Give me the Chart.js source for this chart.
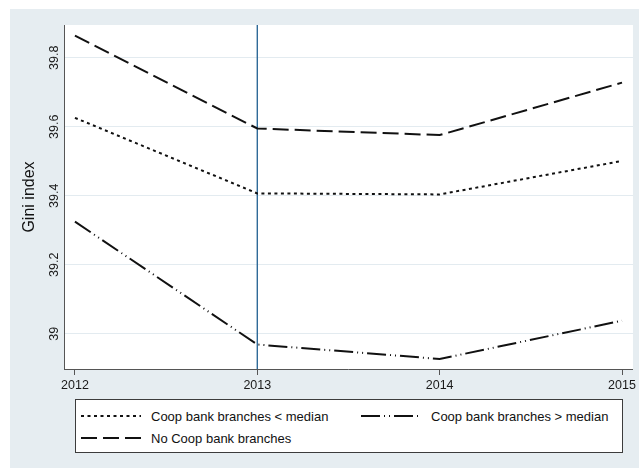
<!DOCTYPE html>
<html>
<head>
<meta charset="utf-8">
<script src="https://cdn.jsdelivr.net/npm/chart.js@4.4.1/dist/chart.umd.min.js"></script>
<style>
  html, body { margin: 0; padding: 0; background: #ffffff; }
  #wrap { position: relative; width: 639px; height: 468px; overflow: hidden; }
  #bg { position: absolute; left: 10px; top: 9px; right: 0; bottom: 0; background: #e6edf1; }
  #c { position: absolute; left: 0; top: 0; }
  #legend {
    position: absolute; background: #ffffff; border: 1px solid #3c3c3c; box-sizing: border-box;
    font-family: "Liberation Sans", Arial, Helvetica, sans-serif; font-size: 13px; color: #111;
  }
  .item { position: absolute; height: 16px; display: flex; align-items: center; white-space: nowrap; }
  .item svg { margin-right: 10px; flex: none; }
</style>
</head>
<body>
<div id="wrap">
  <div id="bg"></div>
  <canvas id="c" width="639" height="468"></canvas>
  <div id="legend"></div>
</div>
<script>
// Survey years and Gini index by group
const years = [2012, 2013, 2014, 2015];
const belowMedian = [39.626, 39.407, 39.404, 39.501];
const aboveMedian = [39.325, 38.969, 38.927, 39.038];
const noCoop = [39.864, 39.595, 39.576, 39.728];
const yTicks = [39, 39.2, 39.4, 39.6, 39.8];
const seriesNames = ['Coop bank branches < median', 'Coop bank branches > median', 'No Coop bank branches'];
const referenceYear = 2013;

// axis extents
const yMin = 38.898, yMax = 39.895;
const xMin = 2011.94, xMax = 2015.06;

// line styles
const DASH_BELOW = [3, 3.5];
const DASH_ABOVE = [19, 4, 1, 4, 1, 4];
const DASH_NONE = [16, 6];
const FONT = '"Liberation Sans", Arial, Helvetica, sans-serif';

const toPoints = vals => years.map((yr, i) => ({ x: yr, y: vals[i] }));

const plotBackground = {
  id: 'plotBackground',
  beforeDraw(chart) {
    const { ctx, chartArea: a } = chart;
    ctx.save();
    ctx.fillStyle = '#ffffff';
    ctx.fillRect(a.left, a.top, a.right - a.left, a.bottom - a.top);
    ctx.restore();
  }
};

const lineDefaults = { borderColor: '#111111', borderWidth: 2, pointRadius: 0, fill: false, tension: 0, borderCapStyle: 'butt' };

const chart = new Chart(document.getElementById('c'), {
  type: 'line',
  data: {
    datasets: [
      { ...lineDefaults, label: seriesNames[0], data: toPoints(belowMedian), borderDash: DASH_BELOW },
      { ...lineDefaults, label: seriesNames[1], data: toPoints(aboveMedian), borderDash: DASH_ABOVE },
      { ...lineDefaults, label: seriesNames[2], data: toPoints(noCoop), borderDash: DASH_NONE },
      { label: 'ref', data: [{ x: referenceYear, y: yMin }, { x: referenceYear, y: yMax }],
        borderColor: '#2f6a98', borderWidth: 1.4, pointRadius: 0, fill: false }
    ]
  },
  options: {
    responsive: false,
    devicePixelRatio: 1,
    animation: false,
    events: [],
    layout: { padding: { left: 0, top: 25, right: 4, bottom: 69 } },
    plugins: { legend: { display: false }, tooltip: { enabled: false } },
    scales: {
      x: {
        type: 'linear', min: xMin, max: xMax,
        afterBuildTicks: s => { s.ticks = years.map(v => ({ value: v })); },
        afterFit: s => { s.height = 30; },
        ticks: { callback: v => String(v), autoSkip: false, maxRotation: 0, padding: 3,
                 color: '#1a1a1a', font: { family: FONT, size: 12.5 } },
        grid: { drawOnChartArea: false, drawTicks: true, tickLength: 6, color: '#555555', lineWidth: 1 },
        border: { display: true, color: '#555555', width: 1 }
      },
      y: {
        type: 'linear', min: yMin, max: yMax,
        afterBuildTicks: s => { s.ticks = yTicks.map(v => ({ value: v })); },
        afterFit: s => { s.width = 64; },
        ticks: { callback: v => String(v), autoSkip: false, minRotation: 90, maxRotation: 90,
                 crossAlign: 'center', padding: -3, color: '#1a1a1a', font: { family: FONT, size: 12.5 } },
        grid: { drawTicks: false, color: '#e3ebf0', lineWidth: 1 },
        border: { display: true, color: '#555555', width: 1 },
        title: { display: true, text: 'Gini index', color: '#111111',
                 font: { family: FONT, size: 16 }, padding: { top: 20, bottom: 0 } }
      }
    }
  },
  plugins: [plotBackground]
});

// legend box spanning the first to last year on the x axis
(function buildLegend() {
  const xs = chart.scales.x;
  const box = document.getElementById('legend');
  const left = Math.round(xs.getPixelForValue(years[0]));
  const right = Math.round(xs.getPixelForValue(years[years.length - 1])) + 1;
  box.style.left = left + 'px';
  box.style.top = Math.round(xs.bottom) + 'px';
  box.style.width = (right - left) + 'px';
  box.style.height = '54px';
  const entries = [
    { name: seriesNames[0], dash: DASH_BELOW, col: 0, row: 0 },
    { name: seriesNames[1], dash: DASH_ABOVE, col: 1, row: 0 },
    { name: seriesNames[2], dash: DASH_NONE, col: 0, row: 1 }
  ];
  const colX = [5, 285];
  const rowY = [8, 30];
  entries.forEach(e => {
    const it = document.createElement('div');
    it.className = 'item';
    it.style.left = colX[e.col] + 'px';
    it.style.top = rowY[e.row] + 'px';
    const svgNS = 'http://www.w3.org/2000/svg';
    const svg = document.createElementNS(svgNS, 'svg');
    svg.setAttribute('width', '60');
    svg.setAttribute('height', '4');
    const ln = document.createElementNS(svgNS, 'line');
    ln.setAttribute('x1', '0'); ln.setAttribute('x2', '60');
    ln.setAttribute('y1', '2'); ln.setAttribute('y2', '2');
    ln.setAttribute('stroke', '#111');
    ln.setAttribute('stroke-width', '2');
    ln.setAttribute('stroke-dasharray', e.dash.join(' '));
    svg.appendChild(ln);
    const tx = document.createElement('span');
    tx.textContent = e.name;
    it.appendChild(svg);
    it.appendChild(tx);
    box.appendChild(it);
  });
})();
</script>
</body>
</html>
